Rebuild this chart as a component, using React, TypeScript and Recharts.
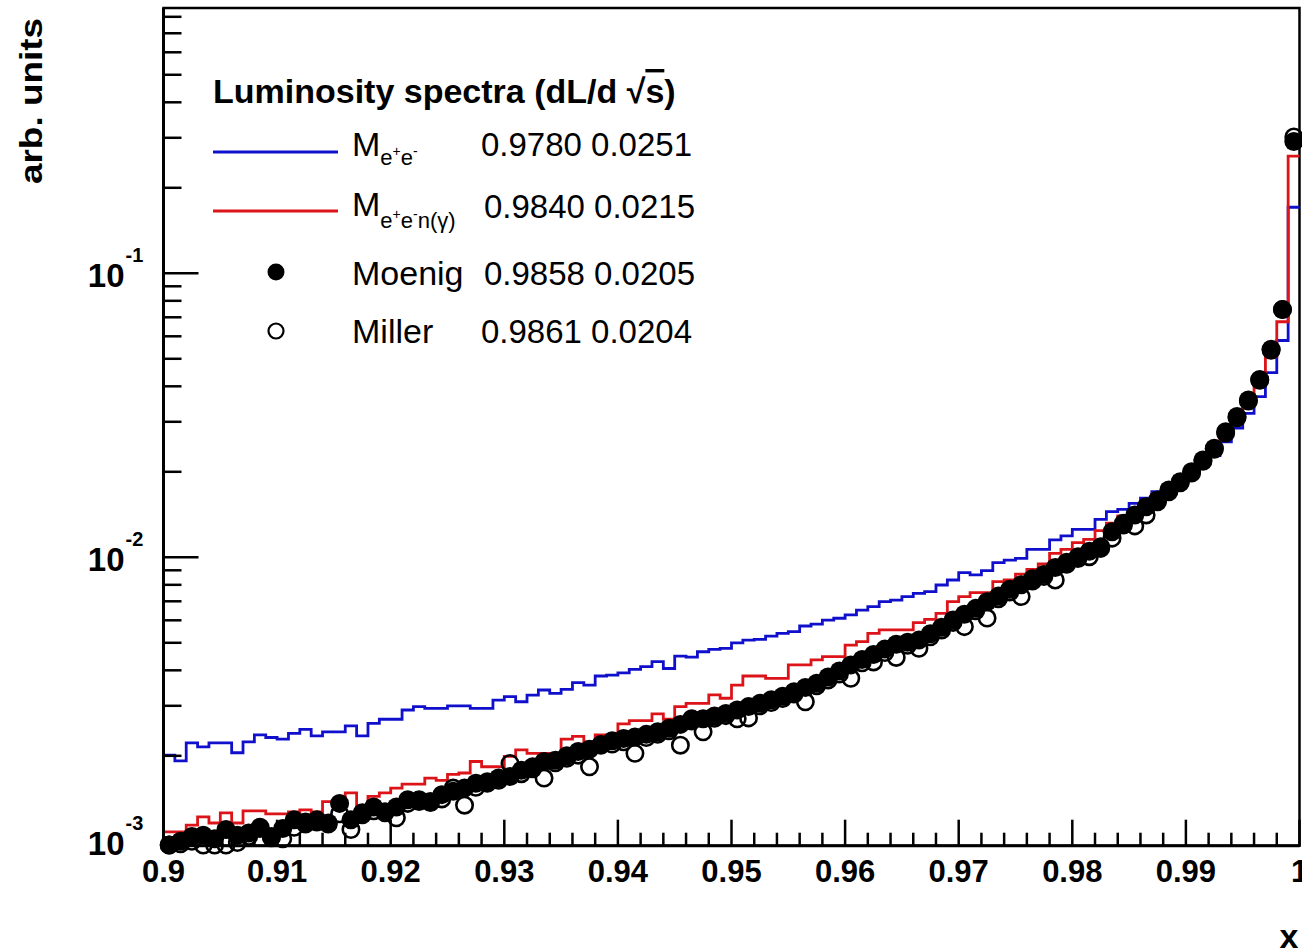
import React from 'react';
import { ComposedChart, Line, Scatter, XAxis, YAxis, ReferenceArea, Legend } from 'recharts';

// ---------- data ----------
const BIN_LOW = 0.9;
const BIN_WIDTH = 0.001;

// M_{e+e-} histogram (blue), 100 bins of width 0.001 from 0.9 to 1.0
const mEE = [
  0.00201, 0.00192, 0.00222, 0.00215, 0.00222, 0.00222, 0.00205, 0.00224, 0.00237, 0.00232,
  0.00229, 0.0024, 0.00248, 0.00235, 0.00243, 0.00243, 0.00255, 0.00235, 0.0026, 0.00269,
  0.00269, 0.0029, 0.00298, 0.00294, 0.00294, 0.003, 0.003, 0.00294, 0.00294, 0.00314,
  0.00323, 0.0031, 0.00327, 0.00341, 0.00332, 0.00343, 0.00362, 0.00355, 0.00382, 0.00385,
  0.00392, 0.00403, 0.00412, 0.00429, 0.00406, 0.00449, 0.00445, 0.00465, 0.00474, 0.00478,
  0.005, 0.00511, 0.00514, 0.00528, 0.0054, 0.00547, 0.00573, 0.00582, 0.00601, 0.0061,
  0.00627, 0.00652, 0.0067, 0.00698, 0.00707, 0.00727, 0.00747, 0.00757, 0.00799, 0.00832,
  0.00883, 0.00867, 0.00897, 0.00957, 0.00978, 0.00992, 0.01067, 0.01067, 0.01151, 0.01189,
  0.01255, 0.01255, 0.01361, 0.01447, 0.01476, 0.01549, 0.01614, 0.01702, 0.0178, 0.0186,
  0.0196, 0.021, 0.0228, 0.0255, 0.0285, 0.0321, 0.0368, 0.0447, 0.058, 0.1708,
];

// M_{e+e-n(gamma)} histogram (red)
const mEEnGamma = [
  0.00108, 0.00108, 0.00114, 0.00122, 0.00116, 0.00126, 0.00116, 0.00128, 0.00128, 0.00125,
  0.00125, 0.00127, 0.00129, 0.00127, 0.00138, 0.00134, 0.00148, 0.0013, 0.00144, 0.00148,
  0.00154, 0.00159, 0.00159, 0.00167, 0.00164, 0.00172, 0.00174, 0.00191, 0.00183, 0.00183,
  0.00199, 0.0021, 0.00204, 0.00204, 0.00204, 0.00229, 0.00234, 0.00224, 0.00237, 0.00237,
  0.00259, 0.00266, 0.00266, 0.00281, 0.00269, 0.00298, 0.00306, 0.00306, 0.00328, 0.00319,
  0.00355, 0.00382, 0.00382, 0.00375, 0.00375, 0.00418, 0.00418, 0.00435, 0.00447, 0.00447,
  0.00491, 0.00505, 0.0054, 0.00555, 0.00555, 0.00555, 0.00589, 0.00605, 0.00635, 0.00698,
  0.00727, 0.00751, 0.00751, 0.00821, 0.00832, 0.00873, 0.00907, 0.00947, 0.01033, 0.01067,
  0.01126, 0.01157, 0.01241, 0.01318, 0.01398, 0.0146, 0.0156, 0.0167, 0.0179, 0.0193,
  0.0208, 0.0227, 0.025, 0.0282, 0.0318, 0.036, 0.041, 0.0508, 0.0675, 0.2586,
];

// Moenig (filled circles), one per bin centre
const moenig = [
  0.00097, 0.001, 0.00104, 0.00105, 0.00102, 0.0011, 0.00105, 0.00107, 0.00111, 0.00104,
  0.00111, 0.00119, 0.00117, 0.00119, 0.00116, 0.00136, 0.00119, 0.00126, 0.00132, 0.00127,
  0.00132, 0.0014, 0.0014, 0.00138, 0.00146, 0.0015, 0.00154, 0.0016, 0.00162, 0.00167,
  0.00169, 0.00178, 0.00183, 0.00191, 0.00193, 0.002, 0.00207, 0.00211, 0.00219, 0.00226,
  0.0023, 0.00233, 0.00238, 0.00243, 0.0025, 0.00258, 0.00265, 0.0027, 0.00276, 0.00282,
  0.0029, 0.00298, 0.00306, 0.00315, 0.00324, 0.00336, 0.00348, 0.0036, 0.00379, 0.00398,
  0.00418, 0.00437, 0.00455, 0.00475, 0.00494, 0.00502, 0.00511, 0.00538, 0.00567, 0.00602,
  0.0063, 0.00661, 0.00697, 0.0073, 0.00772, 0.008, 0.0084, 0.0087, 0.0092, 0.0096,
  0.01005, 0.0105, 0.0109, 0.01231, 0.01318, 0.01409, 0.01507, 0.01592, 0.01726, 0.01846,
  0.02, 0.022, 0.0242, 0.0277, 0.0313, 0.0358, 0.0423, 0.054, 0.0746, 0.291,
];

// Miller (open circles), one per bin centre
const miller = [
  0.00097, 0.00098, 0.001, 0.00097, 0.00097, 0.00097, 0.00099, 0.00104, 0.00112, 0.00103,
  0.00102, 0.00112, 0.00115, 0.00117, 0.00115, 0.00125, 0.0011, 0.00124, 0.00128, 0.00126,
  0.00121, 0.00136, 0.00138, 0.00137, 0.00141, 0.00154, 0.00134, 0.00155, 0.0016, 0.00164,
  0.00188, 0.00173, 0.0018, 0.00167, 0.00189, 0.00196, 0.00201, 0.00183, 0.00218, 0.0022,
  0.00224, 0.00204, 0.00232, 0.00238, 0.00245, 0.00218, 0.0027, 0.00243, 0.00271, 0.00277,
  0.0027, 0.00272, 0.003, 0.00308, 0.00318, 0.0033, 0.0031, 0.00353, 0.0037, 0.00388,
  0.00375, 0.00425, 0.00428, 0.00462, 0.00444, 0.0049, 0.00478, 0.00525, 0.00555, 0.0059,
  0.0057, 0.00648, 0.00611, 0.00715, 0.00755, 0.00727, 0.00825, 0.00855, 0.00832, 0.00945,
  0.0099, 0.01005, 0.01075, 0.01168, 0.013, 0.0129, 0.0141, 0.0157, 0.017, 0.0183,
  0.0198, 0.0218, 0.024, 0.0274, 0.031, 0.0355, 0.042, 0.0536, 0.0745, 0.302,
];

const xMajorLabels = ['0.9', '0.91', '0.92', '0.93', '0.94', '0.95', '0.96', '0.97', '0.98', '0.99', '1'];
const xMinorPerMajor = 5;
const yDecades = [-3, -2, -1];
const yMin = 0.000965;
const yMax = 0.8592;

const legendTitle = 'Luminosity spectra (dL/d ';
const legendStats = ['0.9780 0.0251', '0.9840 0.0215', '0.9858 0.0205', '0.9861 0.0204'];
const seriesNames = ['Me+e-', 'Me+e-n(γ)', 'Moenig', 'Miller'];
const yTitle = 'arb. units';
const xTitle = 'x';

const BLUE = '#1010cc';
const RED = '#dc1419';
const FONT = '"Liberation Sans", Arial, Helvetica, sans-serif';

// ---------- derived tables ----------
const stepData = mEE.map((v, i) => ({
  x: +(BIN_LOW + i * BIN_WIDTH).toFixed(4),
  ee: v,
  een: mEEnGamma[i],
}));
stepData.push({ x: +(BIN_LOW + mEE.length * BIN_WIDTH).toFixed(4), ee: mEE[mEE.length - 1], een: mEEnGamma[mEEnGamma.length - 1] });

const moenigData = moenig.map((v, i) => ({ x: +(BIN_LOW + (i + 0.5) * BIN_WIDTH).toFixed(5), y: v }));
const millerData = miller.map((v, i) => ({ x: +(BIN_LOW + (i + 0.5) * BIN_WIDTH).toFixed(5), y: v }));

const xTicks: number[] = [];
for (let i = 0; i < xMajorLabels.length - 1; i++) {
  const a = parseFloat(xMajorLabels[i]);
  const b = parseFloat(xMajorLabels[i + 1]);
  for (let j = 0; j < xMinorPerMajor; j++) xTicks.push(+(a + ((b - a) * j) / xMinorPerMajor).toFixed(4));
}
xTicks.push(parseFloat(xMajorLabels[xMajorLabels.length - 1]));

const yTicks: number[] = [];
yDecades.forEach((d) => {
  for (let m = 1; m <= 9; m++) {
    const v = +(m * Math.pow(10, d)).toPrecision(3);
    if (v >= yMin && v <= yMax) yTicks.push(v);
  }
});

// ---------- renderers ----------
const XTick = (props: any) => {
  const { x, y, payload } = props;
  const v = payload.value as number;
  const idx = xMajorLabels.findIndex((l) => Math.abs(parseFloat(l) - v) < 1e-6);
  const major = idx >= 0;
  const len = major ? 26 : 13;
  return (
    <g>
      <line x1={x} x2={x} y1={y} y2={y - len} stroke="#000" strokeWidth={2.5} />
      {major && (
        <text x={x} y={y + 36} textAnchor="middle" fontSize={31} fontWeight="bold" fontFamily={FONT} fill="#000">
          {xMajorLabels[idx]}
        </text>
      )}
    </g>
  );
};

const YTick = (props: any) => {
  const { x, y, payload } = props;
  const v = payload.value as number;
  const e = Math.log10(v);
  const major = Math.abs(e - Math.round(e)) < 1e-6;
  const len = major ? 35 : 18;
  return (
    <g>
      <line x1={x} x2={x + len} y1={y} y2={y} stroke="#000" strokeWidth={2.5} />
      {major && (
        <text x={x - 39} y={y + 14} textAnchor="end" fontSize={33} fontWeight="bold" fontFamily={FONT} fill="#000">
          10
        </text>
      )}
      {major && (
        <text x={x - 38} y={y - 11} textAnchor="start" fontSize={20} fontWeight="bold" fontFamily={FONT} fill="#000">
          {String(Math.round(e))}
        </text>
      )}
    </g>
  );
};

const FilledDot = (p: any) => <circle cx={p.cx} cy={p.cy} r={9.5} fill="#000" />;
const OpenDot = (p: any) => <circle cx={p.cx} cy={p.cy} r={8.2} fill="none" stroke="#000" strokeWidth={2.6} />;

const renderLegend = () => {
  const txt = { fontFamily: FONT, fill: '#000' } as any;
  return (
    <svg width={1302} height={949} style={{ position: 'absolute', left: 0, top: 0, overflow: 'visible' }}>
      <text x={213} y={103} fontSize={34} fontWeight="bold" {...txt}>
        {legendTitle}
        <tspan>√</tspan>
        <tspan style={{ textDecoration: 'overline' }}>s</tspan>
        <tspan>)</tspan>
      </text>
      {/* row 1 */}
      <line x1={213} x2={338} y1={152} y2={152} stroke={BLUE} strokeWidth={3} />
      <text x={352} y={156} fontSize={34} {...txt}>
        M<tspan fontSize={22} dy={9}>e</tspan>
        <tspan fontSize={14} dy={-9}>+</tspan>
        <tspan fontSize={22} dy={9}>e</tspan>
        <tspan fontSize={14} dy={-9}>-</tspan>
      </text>
      <text x={481} y={156} fontSize={33} {...txt}>{legendStats[0]}</text>
      {/* row 2 */}
      <line x1={213} x2={338} y1={211} y2={211} stroke={RED} strokeWidth={3} />
      <text x={352} y={216} fontSize={34} {...txt}>
        M<tspan fontSize={22} dy={12}>e</tspan>
        <tspan fontSize={14} dy={-9}>+</tspan>
        <tspan fontSize={22} dy={9}>e</tspan>
        <tspan fontSize={14} dy={-9}>-</tspan>
        <tspan fontSize={22} dy={9}>n(</tspan>
        <tspan fontSize={22}>γ</tspan>
        <tspan fontSize={22}>)</tspan>
      </text>
      <text x={484} y={218} fontSize={33} {...txt}>{legendStats[1]}</text>
      {/* row 3 */}
      <circle cx={276} cy={272} r={8.5} fill="#000" />
      <text x={352} y={285} fontSize={34} {...txt}>{seriesNames[2]}</text>
      <text x={484} y={285} fontSize={33} {...txt}>{legendStats[2]}</text>
      {/* row 4 */}
      <circle cx={276} cy={331} r={7.5} fill="none" stroke="#000" strokeWidth={2.2} />
      <text x={352} y={343} fontSize={34} {...txt}>{seriesNames[3]}</text>
      <text x={481} y={343} fontSize={33} {...txt}>{legendStats[3]}</text>
    </svg>
  );
};

const YTitle = (props: any) => {
  const vb = props.viewBox || { x: 0, y: 8 };
  const px = vb.x + 42;
  const py = vb.y + 10;
  return (
    <text
      transform={`translate(${px}, ${py}) rotate(-90)`}
      textAnchor="end"
      fontSize={32}
      fontWeight="bold"
      fontFamily={FONT}
      fill="#000"
      textLength={166}
      lengthAdjust="spacingAndGlyphs"
    >
      {yTitle}
    </text>
  );
};

const XTitle = (props: any) => {
  const vb = props.viewBox || { x: 163.5, y: 845.7, width: 1136, height: 103.3 };
  return (
    <text x={vb.x + vb.width - 1} y={vb.y + 102} textAnchor="end" fontSize={34} fontWeight="bold" fontFamily={FONT} fill="#000">
      {xTitle}
    </text>
  );
};

export default function App() {
  return (
    <div style={{ position: 'absolute', left: 0, top: 0, width: 1302, height: 949, background: '#fff' }}>
      <ComposedChart
        width={1302}
        height={949}
        data={stepData}
        margin={{ top: 8, right: 2.5, bottom: 0, left: 0 }}
      >
        <XAxis
          dataKey="x"
          type="number"
          domain={[0.9, 1.0]}
          ticks={xTicks}
          interval={0}
          tickSize={0}
          tickMargin={0}
          tick={<XTick />}
          height={103.3}
          axisLine={{ stroke: '#000', strokeWidth: 3 }}
          label={{ content: <XTitle /> } as any}
        />
        <YAxis
          type="number"
          scale="log"
          domain={[yMin, yMax]}
          ticks={yTicks}
          interval={0}
          tickSize={0}
          tickMargin={0}
          tick={<YTick />}
          width={163.5}
          axisLine={{ stroke: '#000', strokeWidth: 3 }}
          label={{ content: <YTitle /> } as any}
        />
        <ReferenceArea x1={0.9} x2={1.0} y1={yMin} y2={yMax} fill="none" stroke="#000" strokeWidth={2.5} ifOverflow="visible" />
        <Line
          type="stepAfter"
          dataKey="ee"
          name={seriesNames[0]}
          stroke={BLUE}
          strokeWidth={2.8}
          dot={false}
          activeDot={false}
          isAnimationActive={false}
        />
        <Line
          type="stepAfter"
          dataKey="een"
          name={seriesNames[1]}
          stroke={RED}
          strokeWidth={2.8}
          dot={false}
          activeDot={false}
          isAnimationActive={false}
        />
        <Scatter data={millerData} dataKey="y" name={seriesNames[3]} shape={<OpenDot />} isAnimationActive={false} />
        <Scatter data={moenigData} dataKey="y" name={seriesNames[2]} shape={<FilledDot />} isAnimationActive={false} />
        <Legend
          layout="horizontal"
          verticalAlign="middle"
          align="center"
          content={renderLegend}
          wrapperStyle={{ position: 'absolute', left: 0, top: 0, width: 1302, height: 949, pointerEvents: 'none' }}
        />
      </ComposedChart>
    </div>
  );
}
